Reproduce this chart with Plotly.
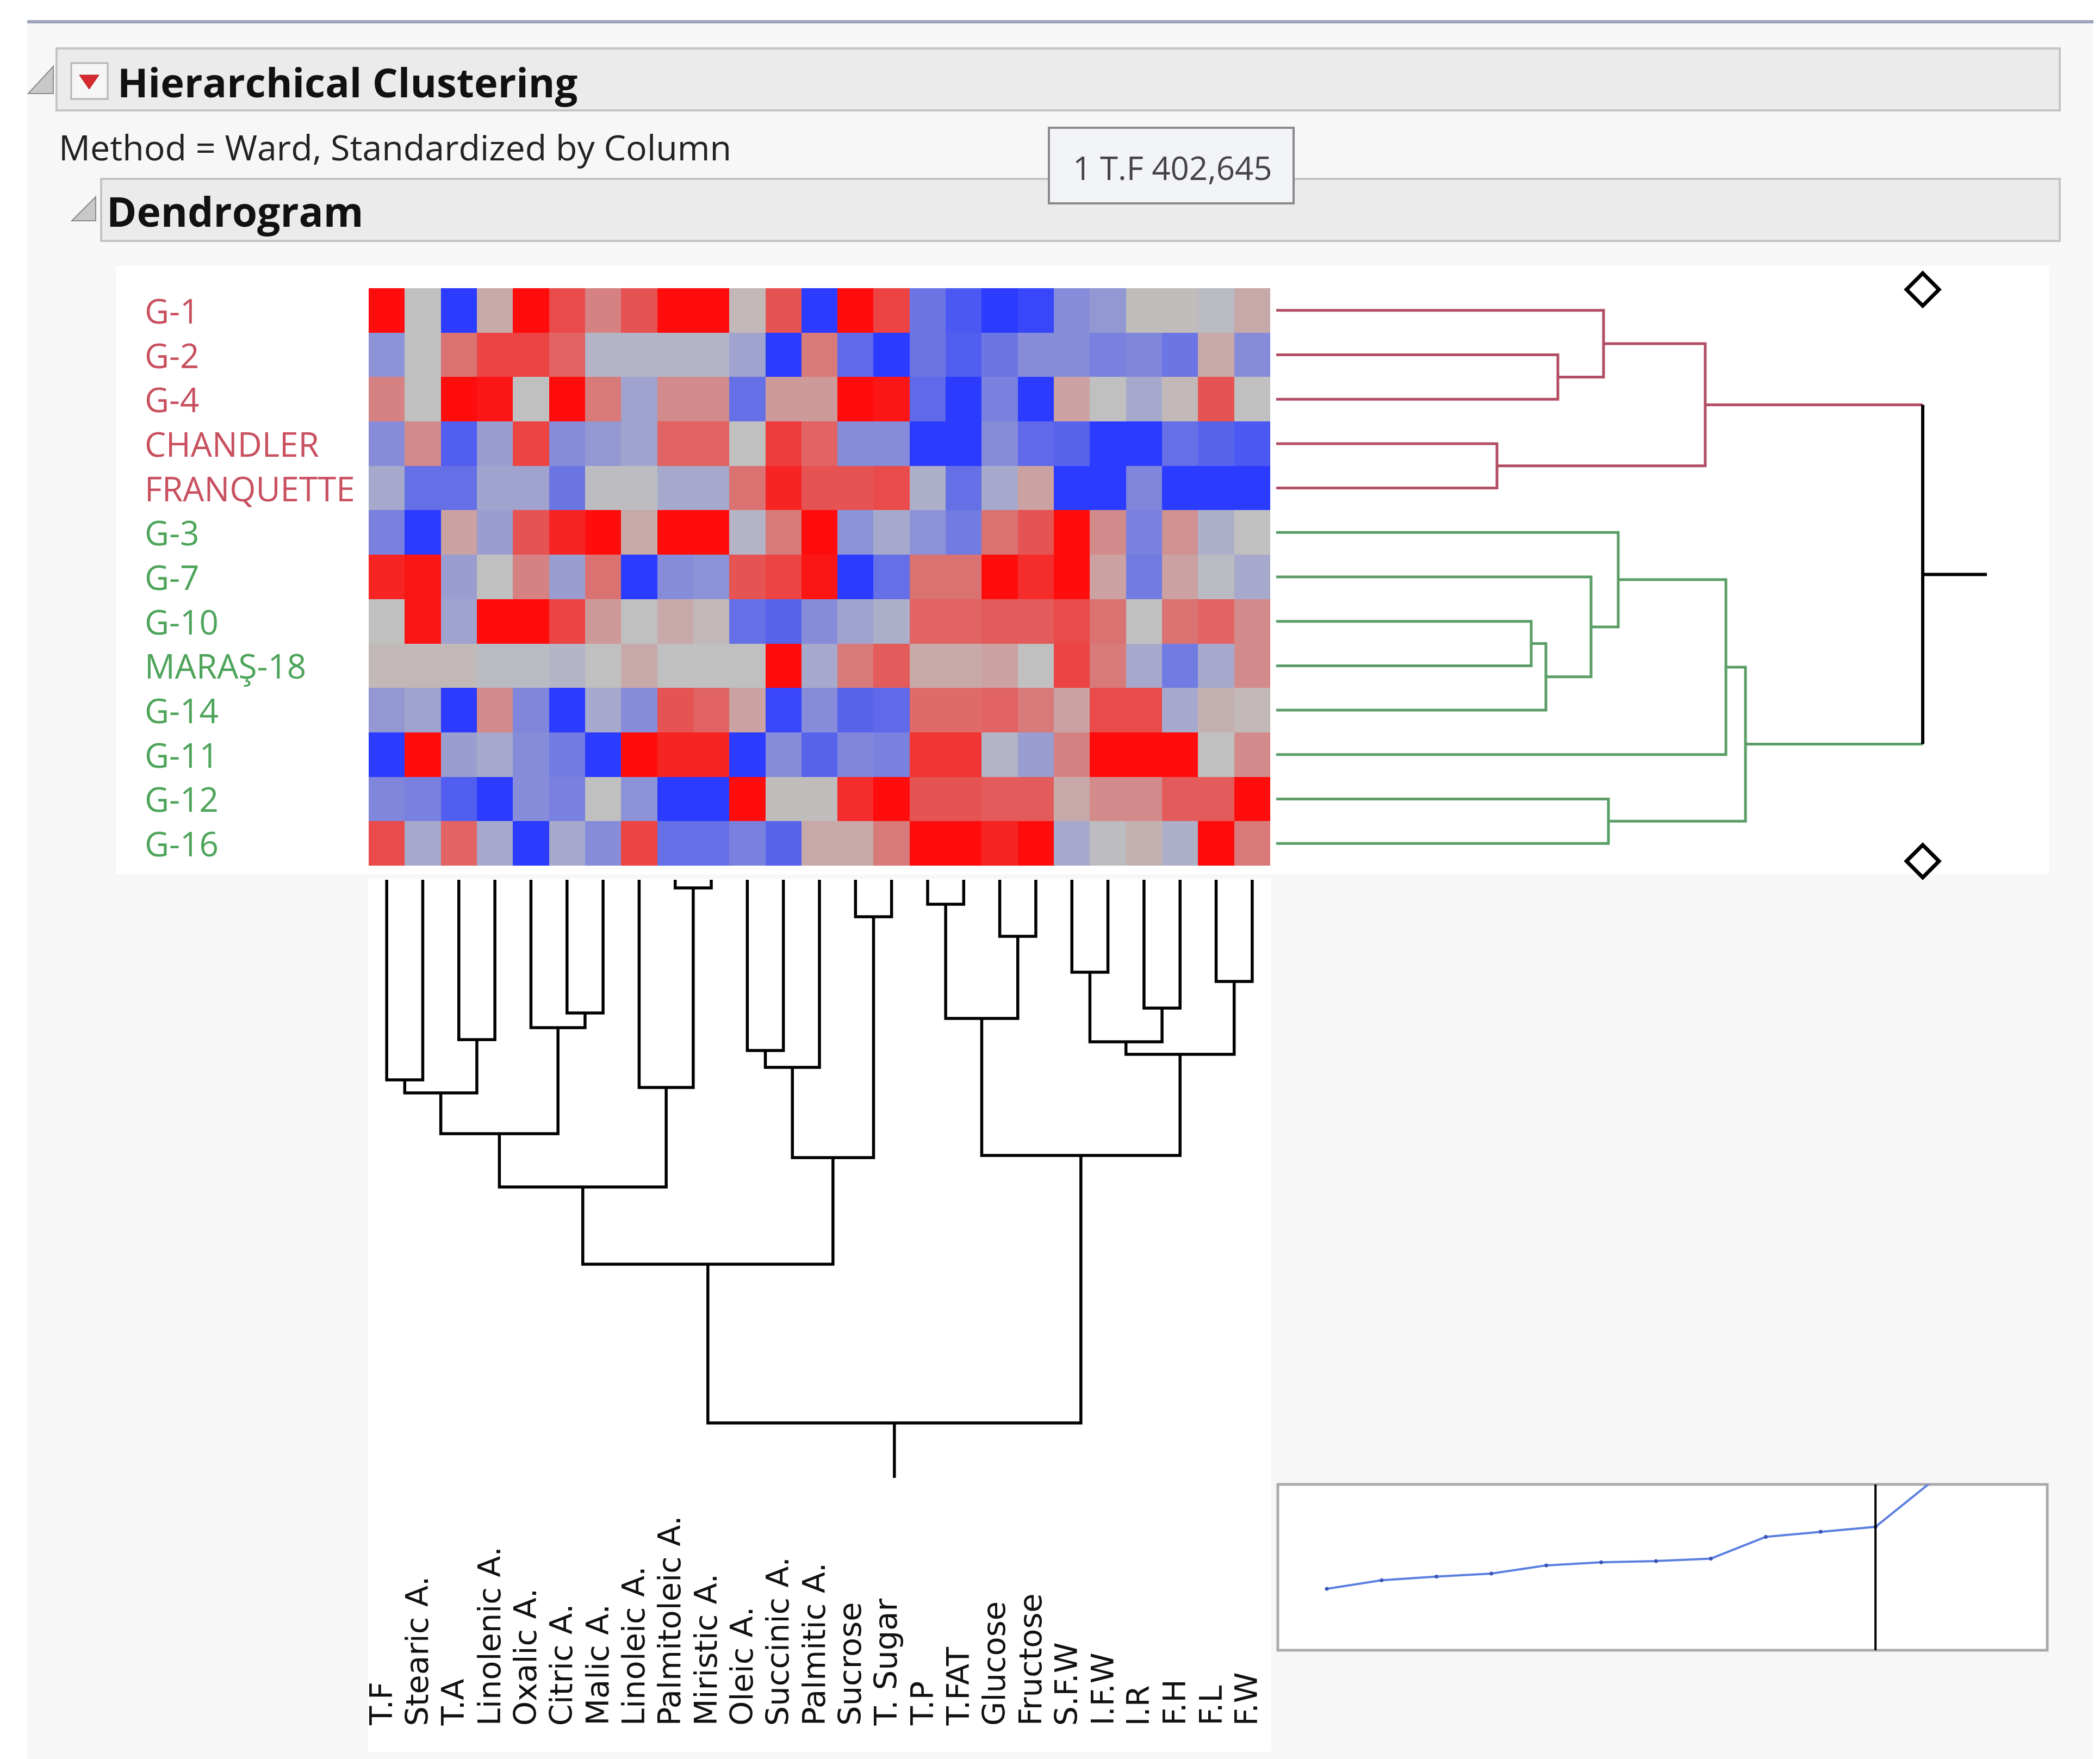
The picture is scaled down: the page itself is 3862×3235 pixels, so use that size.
import plotly.graph_objects as go

W, H = 3862, 3235

# ---------------- data ----------------
row_labels = ["G-1", "G-2", "G-4", "CHANDLER", "FRANQUETTE", "G-3", "G-7", "G-10",
              "MARAŞ-18", "G-14", "G-11", "G-12", "G-16"]
row_cluster = [1, 1, 1, 1, 1, 2, 2, 2, 2, 2, 2, 2, 2]
col_labels = ["T.F", "Stearic A.", "T.A", "Linolenic A.", "Oxalic A.", "Citric A.", "Malic A.",
              "Linoleic A.", "Palmitoleic A.", "Miristic A.", "Oleic A.", "Succinic A.",
              "Palmitic A.", "Sucrose", "T. Sugar", "T.P", "T.FAT", "Glucose", "Fructose",
              "S.F.W", "I.F.W", "I.R", "F.H", "F.L", "F.W"]

z_g1 = [2.5, 0.0, -2.3, 0.3, 2.5, 1.5, 0.8, 1.4, 2.3, 2.5, 0.1, 1.4, -2.3, 2.3, 1.6, -1.3, -1.8, -2.3, -2.1, -0.9, -0.7, 0.05, 0.05, -0.1, 0.3]
z_g2 = [-0.8, 0.0, 1.0, 1.6, 1.6, 1.2, -0.2, -0.2, -0.2, -0.2, -0.5, -2.3, 0.9, -1.5, -2.3, -1.3, -1.7, -1.3, -0.9, -0.9, -1.1, -1.0, -1.3, 0.3, -0.9]
z_g4 = [0.8, 0.0, 2.5, 2.2, 0.0, 2.5, 0.9, -0.5, 0.7, 0.7, -1.4, 0.5, 0.5, 2.5, 2.2, -1.5, -2.3, -1.1, -2.3, 0.4, 0.0, -0.4, 0.1, 1.4, 0.0]
z_chandler = [-0.9, 0.7, -1.7, -0.6, 1.6, -0.9, -0.7, -0.5, 1.2, 1.2, 0.0, 1.7, 1.2, -0.9, -0.9, -2.3, -2.3, -0.9, -1.5, -1.6, -2.3, -2.3, -1.4, -1.6, -1.8]
z_franquette = [-0.4, -1.4, -1.4, -0.5, -0.5, -1.3, -0.05, -0.05, -0.4, -0.4, 1.0, 2.0, 1.4, 1.4, 1.5, -0.3, -1.4, -0.4, 0.4, -2.3, -2.3, -1.0, -2.3, -2.3, -2.3]
z_g3 = [-1.1, -2.3, 0.4, -0.6, 1.4, 2.0, 2.5, 0.3, 2.5, 2.5, -0.2, 0.9, 2.5, -0.8, -0.4, -0.8, -1.2, 1.0, 1.4, 2.5, 0.7, -1.1, 0.6, -0.3, 0.0]
z_g7 = [2.0, 2.2, -0.6, 0.0, 0.8, -0.6, 1.0, -2.3, -0.9, -0.8, 1.4, 1.6, 2.2, -2.3, -1.4, 1.0, 1.0, 2.5, 1.9, 2.5, 0.4, -1.2, 0.4, -0.1, -0.4]
z_g10 = [0.0, 2.2, -0.5, 2.5, 2.5, 1.6, 0.5, 0.0, 0.3, 0.1, -1.4, -1.6, -0.9, -0.5, -0.3, 1.2, 1.2, 1.3, 1.3, 1.5, 1.0, 0.0, 1.0, 1.2, 0.7]
z_maras18 = [0.1, 0.1, 0.1, -0.1, -0.1, -0.2, 0.0, 0.3, 0.0, 0.0, 0.0, 2.5, -0.4, 0.9, 1.3, 0.3, 0.3, 0.4, 0.0, 1.6, 0.9, -0.4, -1.2, -0.4, 0.7]
z_g14 = [-0.7, -0.5, -2.3, 0.7, -1.0, -2.3, -0.4, -0.9, 1.4, 1.2, 0.4, -2.1, -0.9, -1.6, -1.5, 1.1, 1.1, 1.2, 0.9, 0.4, 1.5, 1.5, -0.4, 0.2, 0.1]
z_g11 = [-2.3, 2.5, -0.6, -0.4, -0.9, -1.2, -2.3, 2.5, 2.0, 2.0, -2.3, -0.9, -1.6, -1.0, -1.1, 1.8, 1.8, -0.2, -0.6, 0.8, 2.5, 2.5, 2.5, 0.0, 0.7]
z_g12 = [-1.0, -1.1, -1.7, -2.3, -0.9, -1.1, 0.0, -0.8, -2.3, -2.3, 2.5, 0.05, 0.05, 1.9, 2.5, 1.4, 1.4, 1.3, 1.3, 0.3, 0.7, 0.7, 1.3, 1.3, 2.5]
z_g16 = [1.5, -0.4, 1.2, -0.4, -2.3, -0.4, -0.9, 1.6, -1.4, -1.4, -1.1, -1.6, 0.3, 0.3, 0.9, 2.5, 2.5, 2.0, 2.5, -0.4, -0.05, 0.2, -0.3, 2.5, 0.9]

# row linkage: (child a, child b, joining distance); new nodes numbered from 13
row_merges = [(1, 2, 5.18), (0, 13, 6.02), (3, 4, 4.06), (14, 15, 7.89),
              (7, 8, 4.69), (17, 9, 4.96), (6, 18, 5.79), (5, 19, 6.29),
              (20, 10, 8.27), (11, 12, 6.11), (21, 22, 8.63), (16, 23, 11.89)]
row_root_stub = 13.07

# column linkage; new nodes numbered from 25
col_merges = [(8, 9, 0.15), (15, 16, 0.45), (13, 14, 0.68), (17, 18, 1.04),
              (19, 20, 1.70), (23, 24, 1.87), (21, 22, 2.36), (5, 6, 2.45),
              (26, 28, 2.55), (4, 32, 2.72), (2, 3, 2.94), (29, 31, 2.98),
              (10, 11, 3.14), (36, 30, 3.21), (37, 12, 3.45), (0, 1, 3.68),
              (40, 35, 3.92), (7, 25, 3.82), (41, 34, 4.67), (39, 27, 5.11),
              (33, 38, 5.07), (43, 42, 5.65), (46, 44, 7.07), (47, 45, 9.99)]
col_root_stub = 11.0

n_clusters = 2

z = [z_g1, z_g2, z_g4, z_chandler, z_franquette, z_g3, z_g7, z_g10, z_maras18,
     z_g14, z_g11, z_g12, z_g16]

# ---------------- helpers ----------------
OFF = 8  # page body margin compensation


def px(x):
    return (x - OFF) / W


def py(y):
    return 1 - (y - OFF) / H


def build_tree(n, merges):
    pos = {i: float(i) for i in range(n)}
    hgt = {i: 0.0 for i in range(n)}
    leaves = {i: [i] for i in range(n)}
    nodes = []
    for k, (a, b, h) in enumerate(merges):
        node = n + k
        pos[node] = (pos[a] + pos[b]) / 2
        hgt[node] = h
        leaves[node] = leaves[a] + leaves[b]
        nodes.append((node, a, b))
    return pos, hgt, leaves, nodes


RED_T, GREEN_T = "#c8505f", "#4ea45a"
RED_L, GREEN_L = "#b24d63", "#5a9e66"

fig = go.Figure()

# heatmap
fig.add_trace(go.Heatmap(
    z=z, x=list(range(len(col_labels))), y=list(range(len(row_labels))),
    colorscale=[[0, "#2b3bff"], [0.5, "#c0c0c0"], [1, "#ff0d0d"]],
    zmin=-2.3, zmax=2.3, showscale=False, hoverinfo="skip",
    xaxis="x", yaxis="y"))

# ---------------- row dendrogram ----------------
nr = len(row_labels)
rpos, rhgt, rleaves, rnodes = build_tree(nr, row_merges)


def node_color(node):
    cl = {row_cluster[i] for i in rleaves[node]}
    if len(cl) == 1:
        return RED_L if cl.pop() == 1 else GREEN_L
    return "#000000"


segs = {}
for node, a, b in rnodes:
    h = rhgt[node]
    ca, cb, cn = node_color(a), node_color(b), node_color(node)
    if ca == cb == cn:
        segs.setdefault(cn, ([], []))
        xs, ys = segs[cn]
        xs += [rhgt[a], h, h, rhgt[b], None]
        ys += [rpos[a], rpos[a], rpos[b], rpos[b], None]
    else:
        for c, col in ((a, ca), (b, cb)):
            segs.setdefault(col, ([], []))
            xs, ys = segs[col]
            xs += [rhgt[c], h, None]
            ys += [rpos[c], rpos[c], None]
        segs.setdefault(cn, ([], []))
        xs, ys = segs[cn]
        xs += [h, h, None]
        ys += [rpos[a], rpos[b], None]
root = nr + len(row_merges) - 1
xs, ys = segs.setdefault("#000000", ([], []))
xs += [rhgt[root], row_root_stub, None]
ys += [rpos[root], rpos[root], None]
for col, (xs, ys) in segs.items():
    fig.add_trace(go.Scatter(x=xs, y=ys, mode="lines", xaxis="x2", yaxis="y2",
                             line=dict(color=col, width=6 if col == "#000000" else 5),
                             hoverinfo="skip", cliponaxis=False))

# cluster slider diamonds
fig.add_trace(go.Scatter(x=[rhgt[root], rhgt[root]], y=[-0.47, nr - 0.6], mode="markers",
                         xaxis="x2", yaxis="y2", cliponaxis=False, hoverinfo="skip",
                         marker=dict(symbol="diamond-open", size=46,
                                     line=dict(color="black", width=7), color="black")))

# ---------------- column dendrogram ----------------
nc = len(col_labels)
cpos, chgt, cleaves, cnodes = build_tree(nc, col_merges)
cx, cy = [], []
for node, a, b in cnodes:
    h = chgt[node]
    cx += [cpos[a], cpos[a], cpos[b], cpos[b], None]
    cy += [chgt[a], h, h, chgt[b], None]
croot = nc + len(col_merges) - 1
cx += [cpos[croot], cpos[croot], None]
cy += [chgt[croot], col_root_stub, None]
fig.add_trace(go.Scatter(x=cx, y=cy, mode="lines", xaxis="x3", yaxis="y3",
                         line=dict(color="black", width=5.5), hoverinfo="skip",
                         cliponaxis=False))

# ---------------- scree (joining distance) plot ----------------
scree_vals = sorted(h for _, _, h in row_merges)
scree_x = list(range(1, len(scree_vals) + 1))
fig.add_trace(go.Scatter(x=scree_x, y=scree_vals, mode="lines+markers",
                         xaxis="x4", yaxis="y4", hoverinfo="skip",
                         line=dict(color="#5a7fe0", width=4),
                         marker=dict(size=7, color="#3a55b5")))
cut_x = len(scree_vals) - (n_clusters - 1)
fig.add_trace(go.Scatter(x=[cut_x, cut_x], y=[-1, 20], mode="lines",
                         xaxis="x4", yaxis="y4", hoverinfo="skip",
                         line=dict(color="black", width=4)))

# ---------------- layout ----------------
hx0, hx1 = 678, 2336
hy0, hy1 = 530, 1592
hidden = dict(showgrid=False, zeroline=False, showticklabels=False, showline=False,
              ticks="")

layout = dict(
    width=W, height=H, margin=dict(l=0, r=0, t=0, b=0),
    paper_bgcolor="white", plot_bgcolor="rgba(0,0,0,0)", showlegend=False,
    xaxis=dict(domain=[px(hx0), px(hx1)], range=[-0.5, nc - 0.5], anchor="y", **hidden),
    yaxis=dict(domain=[py(hy1), py(hy0)], range=[nr - 0.5, -0.5], anchor="x", **hidden),
    xaxis2=dict(domain=[px(2347), px(3768)], range=[0, (3768 - 2347) / 100], anchor="y2", **hidden),
    yaxis2=dict(domain=[py(hy1), py(hy0)], range=[nr - 0.5, -0.5], anchor="x2", **hidden),
    xaxis3=dict(domain=[px(hx0), px(hx1)], range=[-0.5, nc - 0.5], anchor="y3", **hidden),
    yaxis3=dict(domain=[py(2800), py(1618)], range=[(2800 - 1618) / 100, 0], anchor="x3", **hidden),
    xaxis4=dict(domain=[px(2350), px(3765)], range=[0.108, 14.13], anchor="y4", **hidden),
    yaxis4=dict(domain=[py(3035), py(2730)], range=[-0.47, 11.76], anchor="x4", **hidden),
)

shapes = []


def rect(x0, y0, x1, y1, fill, line_color=None, lw=0, layer="below"):
    shapes.append(dict(type="rect", xref="paper", yref="paper",
                       x0=px(x0), x1=px(x1), y0=py(y1), y1=py(y0),
                       fillcolor=fill, layer=layer,
                       line=dict(color=line_color or fill, width=lw)))


def path(points, fill, line_color, lw=1, layer="above"):
    d = "M " + " L ".join(f"{px(x):.5f},{py(y):.5f}" for x, y in points) + " Z"
    shapes.append(dict(type="path", xref="paper", yref="paper", path=d,
                       fillcolor=fill, layer=layer, line=dict(color=line_color, width=lw)))


rect(50, 42, 3850, H + OFF, "#f7f7f7")
shapes.append(dict(type="line", xref="paper", yref="paper", x0=px(50), x1=px(3850),
                   y0=py(40), y1=py(40), line=dict(color="#9ea2ba", width=6), layer="below"))
rect(104, 89, 3788, 203, "#ebebeb", "#c4c4c4", 4)
rect(186, 329, 3788, 443, "#ebebeb", "#c4c4c4", 4)
rect(214, 489, 3768, 1608, "#ffffff")
rect(676, 1616, 2338, 3222, "#ffffff")
rect(2350, 2730, 3765, 3035, "#ffffff", "#aaaaaa", 5)
# disclosure triangles
path([(52, 172), (98, 172), (98, 122)], "#c8c8c8", "#8a8a8a", 2)
path([(132, 406), (176, 406), (176, 362)], "#c8c8c8", "#8a8a8a", 2)
# red menu button
shapes.append(dict(type="rect", xref="paper", yref="paper", x0=px(131), x1=px(198),
                   y0=py(182), y1=py(116), fillcolor="#f6f6f6", layer="above",
                   line=dict(color="#b4b4b4", width=3)))
path([(146, 138), (182, 138), (164, 164)], "#d42a30", "#b01a20", 1)
# tooltip
shapes.append(dict(type="rect", xref="paper", yref="paper", x0=px(1929), x1=px(2379),
                   y0=py(374), y1=py(235), fillcolor="#f3f4f8", layer="above",
                   line=dict(color="#8a8a8a", width=4)))

annotations = [
    dict(text="<b>Hierarchical Clustering</b>", x=px(214), y=py(150), xref="paper", yref="paper",
         xanchor="left", yanchor="middle", showarrow=False,
         font=dict(family="Open Sans", size=74, color="#111111")),
    dict(text="Method = Ward, Standardized by Column", x=px(106), y=py(270), xref="paper",
         yref="paper", xanchor="left", yanchor="middle", showarrow=False,
         font=dict(family="Open Sans", size=64.5, color="#222222")),
    dict(text="<b>Dendrogram</b>", x=px(194), y=py(388), xref="paper", yref="paper",
         xanchor="left", yanchor="middle", showarrow=False,
         font=dict(family="Open Sans", size=75, color="#111111")),
    dict(text="1 T.F 402,645", x=px(2156), y=py(308), xref="paper", yref="paper",
         xanchor="center", yanchor="middle", showarrow=False,
         font=dict(family="Open Sans", size=60, color="#444444")),
]
for i, lab in enumerate(row_labels):
    annotations.append(dict(text=lab, x=px(264), y=i, xref="paper", yref="y",
                            xanchor="left", yanchor="middle", showarrow=False,
                            font=dict(family="Open Sans", size=62,
                                      color=RED_T if row_cluster[i] == 1 else GREEN_T)))
for j, lab in enumerate(col_labels):
    annotations.append(dict(text=lab, x=j, y=py(3176), xref="x", yref="paper",
                            xanchor="center", yanchor="bottom", textangle=-90,
                            showarrow=False, xshift=-10,
                            font=dict(family="DejaVu Sans", size=57.5, color="#111111")))

layout["shapes"] = shapes
layout["annotations"] = annotations
fig.update_layout(**layout)
fig.write_html("out.html")
